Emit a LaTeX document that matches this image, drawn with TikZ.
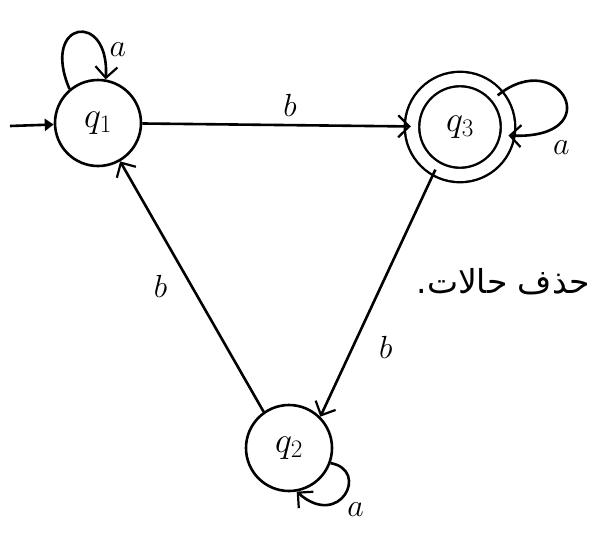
\RequirePackage{fix-cm}
\documentclass[tikz,border=0pt]{standalone}
\usepackage{fontspec}
\usetikzlibrary{arrows.meta}
\TeXXeTstate=1
\newfontfamily\arabicfont[Script=Arabic]{DejaVu Sans}
\begin{document}
\begin{tikzpicture}[x=1pt,y=-1pt,line width=2.6pt,
  state/.style={circle,draw,minimum size=86pt,inner sep=0pt,font=\fontsize{36}{42}\selectfont},
  acc/.style={state,double,double distance=12pt,line width=2.4pt,minimum size=96pt},
  lbl/.style={font=\fontsize{32}{38}\selectfont},
  tr/.style={-{Straight Barb[length=11pt,width=22pt,line width=2.2pt]}}]
\useasboundingbox (0,0) rectangle (591,533);
\node[state] (q1) at (98,123) {$q_1$};
\node[acc] (q3) at (460,127) {$q_3$};
\node[state] (q2) at (289,448) {$q_2$};
\coordinate (start) at (10,126);
\draw[-{Triangle[length=9pt,width=12pt]}] (start) -- (q1);
\draw[tr] (q1) -- node[lbl,above=4pt,pos=0.55] (lb1) {$b$} (q3);
\draw[tr] (q3.-120) -- node[lbl,right=22pt,pos=0.72] (lb2) {$b$} (q2.45);
\draw[tr] (q2.125) -- node[lbl,left=20pt,pos=0.5] (lb3) {$b$} (q1.-60);
\draw[tr] (q1.130) .. controls (40,20) and (110,10) .. node[lbl,pos=0.9,above right=0pt] (la1) {$a$} (q1.80);
\draw[tr] (q3.40) .. controls (560,45) and (610,140) .. node[lbl,pos=0.85,below right=4pt] (la3) {$a$} (q3.-10);
\draw[tr] (q2.-20) .. controls (370,470) and (340,530) .. node[lbl,pos=0.8,right=22pt,yshift=-6pt] (la2) {$a$} (q2.-80);
\node[font=\arabicfont\fontsize{33}{38}\selectfont,anchor=west] (ar) at (412,282) {\beginR حذف حالات.\endR};
\end{tikzpicture}
\end{document}
